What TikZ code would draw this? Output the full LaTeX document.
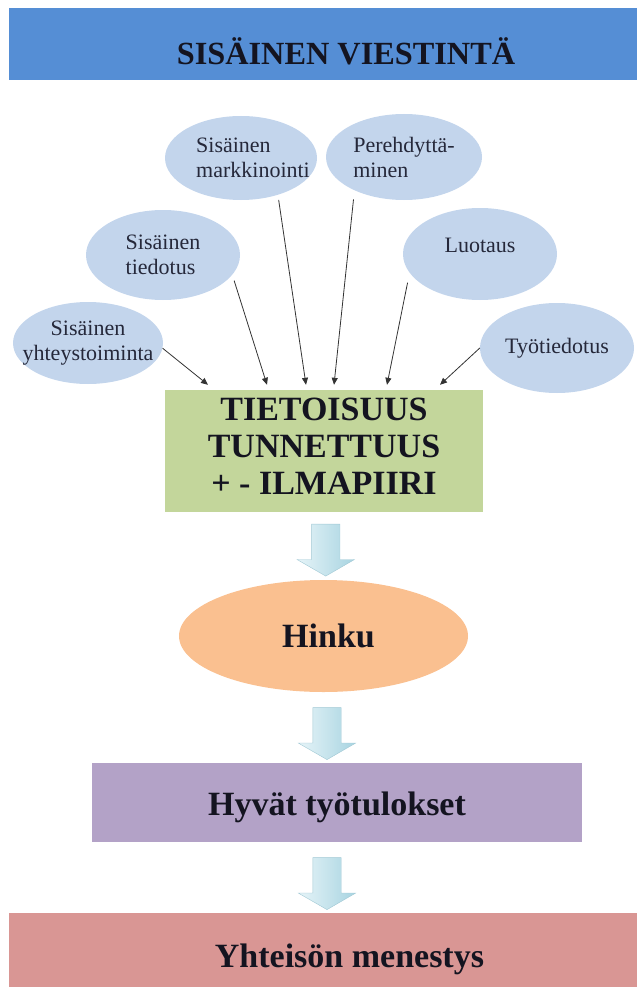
\documentclass[tikz,border=0pt]{standalone}
\usepackage{fontspec}
\setmainfont{Liberation Serif}
\usepackage{xcolor}
\usepackage{tikz}
\usetikzlibrary{arrows.meta, positioning, shapes.geometric, shapes.arrows, calc}

\definecolor{titleblue}{HTML}{558ED5}
\definecolor{bubbleblue}{HTML}{C3D5EC}
\definecolor{awaregreen}{HTML}{C3D69B}
\definecolor{hinkuorange}{HTML}{FAC090}
\definecolor{resultpurple}{HTML}{B3A2C7}
\definecolor{successred}{HTML}{D99694}
\definecolor{flowlight}{HTML}{E6F4F8}
\definecolor{flowdark}{HTML}{A8D4E1}
\definecolor{flowedge}{HTML}{A0C8D4}
\definecolor{inkdark}{HTML}{141420}
\definecolor{inkgray}{HTML}{25283A}
\definecolor{linegray}{HTML}{333333}

\newcommand{\nudge}[2]{\raisebox{#1}[\height][\depth]{#2}}

\begin{document}
\begin{tikzpicture}[
      x=1pt, y=-1pt,
      bubble/.style={ellipse, fill=bubbleblue, inner xsep=-16pt, inner ysep=-12pt, text=inkgray,
        font=\fontsize{22}{25}\selectfont, align=left},
      feed/.style={-{Triangle[length=7pt,width=6pt]}, line width=0.8pt, draw=linegray},
      panel/.style={rectangle, inner sep=0pt, text=inkdark,
        font=\bfseries\fontsize{34}{37}\selectfont, align=center},
      flow/.style={single arrow, shape border rotate=270, inner sep=14pt,
        minimum height=52pt, single arrow head extend=14.5pt, single arrow tip angle=120,
        left color=flowlight, right color=flowdark, draw=flowedge, line width=0.4pt}
    ]
      \useasboundingbox (0,0) rectangle (637,987);

      \node[panel, fill=titleblue, minimum width=628pt, minimum height=72pt,
        font=\bfseries\fontsize{32.3}{35}\selectfont] (viestinta) at (323,44)
        {\nudge{-7pt}{\hspace*{46pt}SISÄINEN VIESTINTÄ}};

      \node[bubble, minimum width=152pt, minimum height=84pt, inner xsep=-28pt] (markkinointi) at (241,158)
        {\hspace*{24pt}Sisäinen\\\hspace*{24pt}markkinointi};
      \node[bubble, minimum width=156pt, minimum height=86pt] (perehdytys) at (404,157) {Perehdyttä-\\minen};
      \node[bubble, minimum width=154pt, minimum height=90pt] (tiedotus) at (163,255) {Sisäinen\\tiedotus};
      \node[bubble, minimum width=154pt, minimum height=92pt] (luotaus) at (480,254) {\nudge{9pt}{Luotaus}};
      \node[bubble, minimum width=150pt, minimum height=82pt, align=center] (yhteys) at (88,343) {Sisäinen\\yhteystoiminta};
      \node[bubble, minimum width=154pt, minimum height=90pt] (tyotiedotus) at (557,348) {Työtiedotus};

      \node[panel, fill=awaregreen, minimum width=318pt, minimum height=122pt, text depth=10pt] (tietoisuus) at (324,451)
        {TIETOISUUS\\TUNNETTUUS\\+ - ILMAPIIRI};
      \node[panel, ellipse, fill=hinkuorange, minimum width=289pt, minimum height=112pt] (hinku) at (323.5,636)
        {\hspace*{10pt}Hinku};
      \node[panel, fill=resultpurple, minimum width=490pt, minimum height=79pt] (tyotulokset) at (337,802.5)
        {\nudge{-5pt}{Hyvät työtulokset}};
      \node[panel, fill=successred, minimum width=628pt, minimum height=74pt] (menestys) at (323,950)
        {\nudge{-9pt}{\hspace*{53pt}Yhteisön menestys}};

      \coordinate (t1) at ($(tietoisuus.north)+(-116,-5)$);
      \coordinate (t2) at ($(tietoisuus.north)+(-57,-5)$);
      \coordinate (t3) at ($(tietoisuus.north)+(-18,-5)$);
      \coordinate (t4) at ($(tietoisuus.north)+(10,-5)$);
      \coordinate (t5) at ($(tietoisuus.north)+(63,-5)$);
      \coordinate (t6) at ($(tietoisuus.north)+(116,-5)$);

      \draw[feed] (yhteys.-4) -- (t1);
      \draw[feed, shorten <=6pt] (tiedotus.-16) -- (t2);
      \draw[feed, shorten <=5pt] (markkinointi.-45) -- (t3);
      \draw[feed, shorten <=9pt] (perehdytys.-146) -- (t4);
      \draw[feed, shorten <=10pt] (luotaus.-165) -- (t5);
      \draw[feed] (tyotiedotus.180) -- (t6);

      \node[flow] (nuoli1) at ($(tietoisuus.south)!0.5!(hinku.north)+(2,0)$) {};
      \node[flow] (nuoli2) at ($(hinku.south)!0.5!(tyotulokset.north)+(-3.25,2)$) {};
      \node[flow] (nuoli3) at ($(tyotulokset.south)!0.5!(menestys.north)+(-3,2)$) {};
    \end{tikzpicture}
\end{document}
